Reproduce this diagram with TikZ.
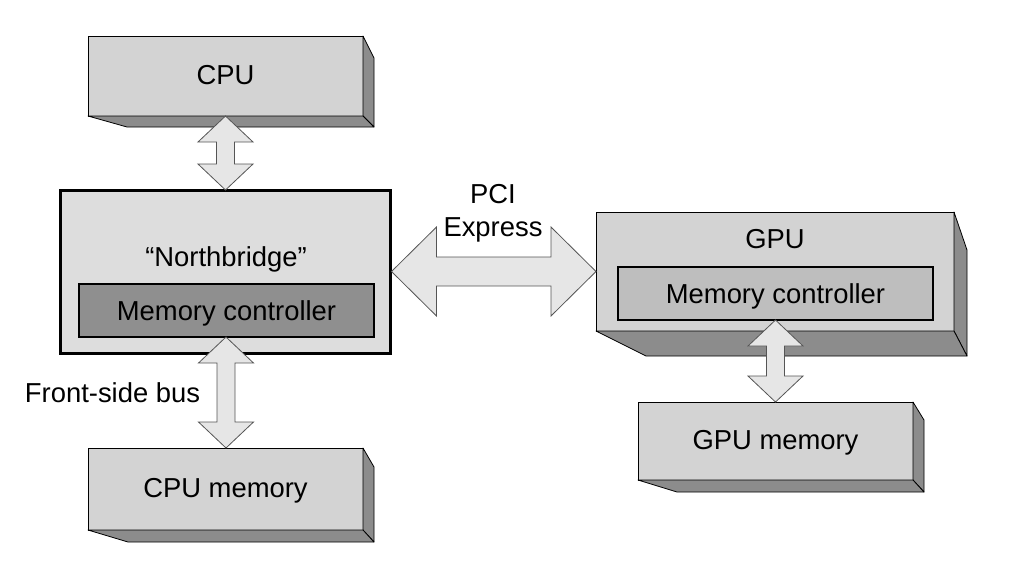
\documentclass[tikz,border=0pt]{standalone}
\usepackage{fontspec}
\setmainfont{Liberation Sans}
\usetikzlibrary{calc}
\definecolor{frontgray}{RGB}{211,211,211}
\definecolor{sidegray}{RGB}{140,140,140}
\definecolor{arrowfill}{RGB}{230,230,230}
\definecolor{arrowdraw}{RGB}{85,85,85}
\definecolor{nbfill}{RGB}{221,221,221}
\definecolor{nbmcfill}{RGB}{143,143,143}
\definecolor{gpumcfill}{RGB}{190,190,190}
\tikzset{
  txt/.style={font=\fontsize{27.4}{33}\selectfont, text=black, inner sep=0pt},
  lbl/.style={txt, text height=19.6pt, text depth=2pt},
  box/.style={lbl, draw=black, line width=0.9pt, fill=frontgray, outer sep=0pt},
  side/.style={draw=black, line width=0.8pt, fill=sidegray, line join=round},
  container/.style={lbl, draw=black, line width=3pt, fill=nbfill, outer sep=0pt},
  inner/.style={txt, text height=19.6pt, text depth=0.5pt, draw=black, line width=2.6pt, outer sep=0pt},
  busarrow/.style={draw=arrowdraw, line width=0.8pt, fill=arrowfill, line join=miter}
}
% vertical double arrow from top tip #1 to bottom tip #2
\newcommand\vdarrow[2]{%
  \draw[busarrow] let \p1=(#1), \p2=(#2) in
    (\x1,\y1) -- ++(27.5pt,-26pt) -- ++(-18.5pt,0pt) -- (\x1+9pt,\y2+26pt)
    -- ++(18.5pt,0pt) -- (\x1,\y2) -- ++(-27.5pt,26pt) -- ++(18.5pt,0pt)
    -- (\x1-9pt,\y1-26pt) -- ++(-18.5pt,0pt) -- cycle;}
% horizontal double arrow from left tip #1 to right tip #2
\newcommand\hdarrow[2]{%
  \draw[busarrow] let \p1=(#1), \p2=(#2) in
    (\x1,\y1) -- ++(45pt,44.5pt) -- ++(0pt,-30pt) -- (\x2-45pt,\y1+14.5pt)
    -- ++(0pt,30pt) -- (\x2,\y1) -- ++(-45pt,-44.5pt) -- ++(0pt,30pt)
    -- (\x1+45pt,\y1-14.5pt) -- ++(0pt,-30pt) -- cycle;}
% 3D extrusion: node, dx, dy, top drop, bottom-left shift
\newcommand\extrude[5]{%
  \draw[side] (#1.north east) -- ++(#2pt,-#4pt) -- ($(#1.south east)+(#2pt,-#3pt)$)
    -- (#1.south east) -- cycle;
  \draw[side] (#1.south west) -- (#1.south east) -- ++(#2pt,-#3pt)
    -- ($(#1.south west)+(#5pt,-#3pt)$) -- cycle;}
\begin{document}
\begin{tikzpicture}[x=1pt,y=-1pt]
\useasboundingbox (0,0) rectangle (1010,566);

% boxes
\node[box, minimum width=275pt, minimum height=80pt] (cpu) at (225.5,76) {CPU};
\extrude{cpu}{11}{11}{22}{39}

\node[container, minimum width=330pt, minimum height=163pt] (nb) at (225,271.5) {};
\node[lbl] (nblabel) at (226,257.5) {“Northbridge”};
\node[inner, fill=nbmcfill, minimum width=295pt, minimum height=53pt] (nbmc) at (226.5,310.5) {Memory controller};

\node[box, minimum width=275pt, minimum height=82pt] (cpumem) at (225.5,489) {CPU memory};
\extrude{cpumem}{11}{12}{19}{40}

\node[box, minimum width=358pt, minimum height=119pt] (gpu) at (775,271.5) {};
\extrude{gpu}{13}{25}{38}{50}
\node[lbl] (gpulabel) at (775,240) {GPU};
\node[inner, fill=gpumcfill, minimum width=315pt, minimum height=53pt] (gpumc) at (775.5,293.5) {Memory controller};

\node[box, minimum width=275pt, minimum height=78pt] (gpumem) at (775.5,441) {GPU memory};
\extrude{gpumem}{11}{12}{18}{39}

% arrows
\vdarrow{$(nb.north |- cpu.south)+(0.5pt,0pt)$}{nb.north}
\vdarrow{$(nbmc.south)+(-0.5pt,0pt)$}{cpumem.north}
\vdarrow{gpumc.south}{gpumem.north}
\hdarrow{$(nb.east)+(1.5pt,0pt)$}{gpu.west}

% labels
\node[txt, align=center] (pci) at (493,213) {PCI\\Express};
\node[lbl] (fsb) at (112.5,393.5) {Front-side bus};
\end{tikzpicture}
\end{document}
